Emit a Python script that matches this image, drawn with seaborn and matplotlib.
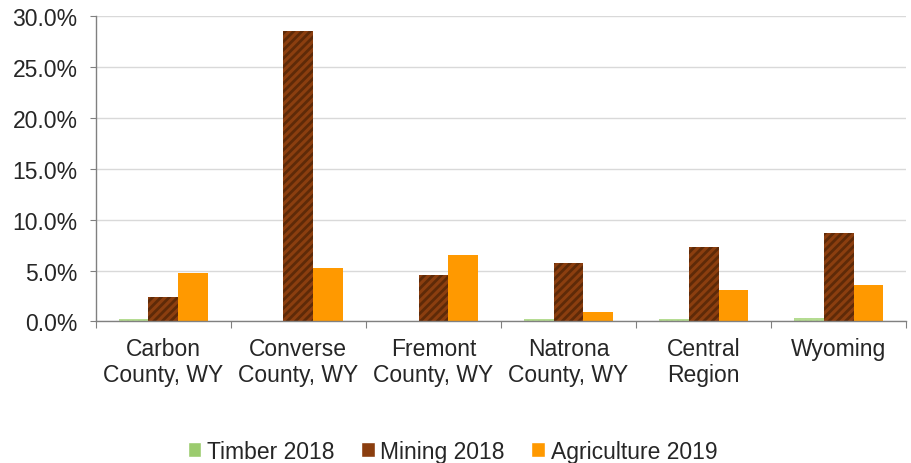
import pandas as pd
import matplotlib.pyplot as plt
import matplotlib.ticker as mtick
import seaborn as sns

# Chart values (percent share)
regions = ['Carbon\nCounty, WY', 'Converse\nCounty, WY', 'Fremont\nCounty, WY',
           'Natrona\nCounty, WY', 'Central\nRegion', 'Wyoming']
series = ['Timber 2018', 'Mining 2018', 'Agriculture 2019']
timber = [0.2, 0.0, 0.0, 0.2, 0.2, 0.3]
mining = [2.4, 28.5, 4.6, 5.7, 7.3, 8.7]
agriculture = [4.8, 5.3, 6.5, 0.9, 3.1, 3.6]

df = pd.DataFrame({
    'Region': regions * 3,
    'Series': [series[0]] * 6 + [series[1]] * 6 + [series[2]] * 6,
    'Value': timber + mining + agriculture,
})

sns.set_style('white')
plt.rcParams['font.family'] = ['Liberation Sans', 'DejaVu Sans']
plt.rcParams['hatch.linewidth'] = 2.0

colors = ['#9BCB6E', '#8B3E0F', '#FF9900']
edge = ['#B5DC92', '#5E2A08', '#FF9900']
hatches = ['+++', '////', '']

fig, ax = plt.subplots(figsize=(9.11, 4.64), dpi=100)
fig.subplots_adjust(left=0.105, right=0.995, top=0.963, bottom=0.305)

sns.barplot(data=df, x='Region', y='Value', hue='Series', palette=colors,
            width=0.66, saturation=1, ax=ax, legend=True)

# patterned fills like the original
for i, cont in enumerate(ax.containers):
    for bar in cont:
        bar.set_hatch(hatches[i])
        bar.set_edgecolor(edge[i])
        bar.set_linewidth(0)

ax.set_ylim(0, 30)
ax.set_xlim(-0.5, 5.5)
ax.yaxis.set_major_locator(mtick.MultipleLocator(5))
ax.yaxis.set_major_formatter(mtick.FuncFormatter(lambda v, p: f'{v:.1f}%'))
ax.yaxis.grid(True, color='#D9D9D9', linewidth=1)
ax.set_axisbelow(True)

# ticks at category boundaries
ax.set_xticks([i + 0.5 for i in range(-1, 6)], minor=False)
ax.set_xticklabels([])
ax.set_xticks(range(6), minor=True)
ax.set_xticklabels(regions, minor=True, fontsize=16.5)
ax.tick_params(axis='x', which='minor', length=0, pad=11)
ax.tick_params(axis='x', which='major', length=5, color='#808080', direction='out', bottom=True)
ax.tick_params(axis='y', labelsize=16.5, length=4, pad=9, color='#808080', left=True, direction='out')
ax.set_xlabel('')
ax.set_ylabel('')

for s in ['top', 'right']:
    ax.spines[s].set_visible(False)
for s in ['left', 'bottom']:
    ax.spines[s].set_color('#808080')
    ax.spines[s].set_linewidth(1)

handles, labels = ax.get_legend_handles_labels()
ax.legend(handles, labels, loc='center', bbox_to_anchor=(0.44, -0.425),
          ncol=3, frameon=False, fontsize=16.5, handlelength=0.6, handleheight=0.6,
          handletextpad=0.25, columnspacing=1.15)

plt.savefig('out.png')
